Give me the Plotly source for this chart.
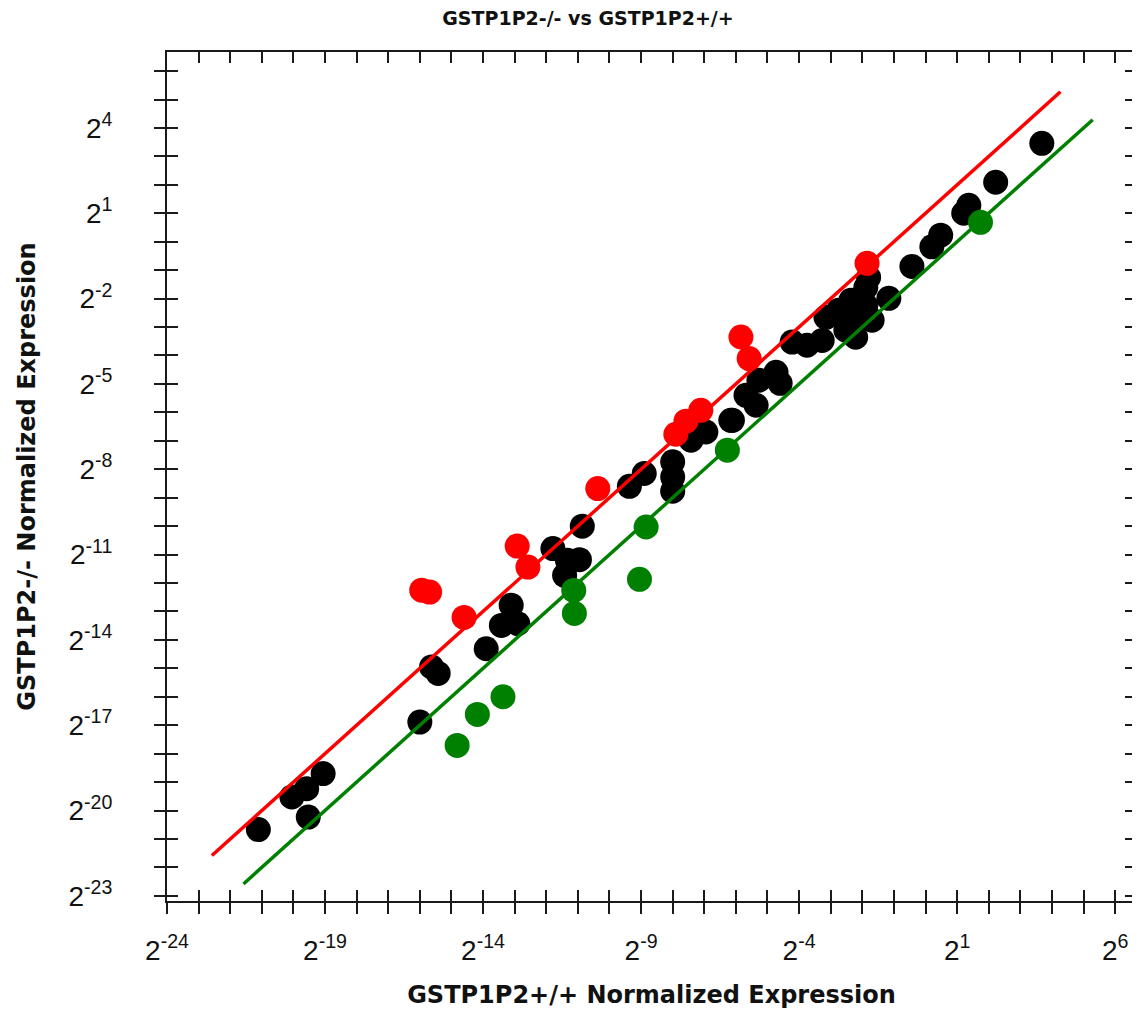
import math
import plotly.graph_objects as go

# log2 expression values (x: GSTP1P2+/+, y: GSTP1P2-/-)
black_x = [-21.11, -20.05, -19.58, -19.06, -19.53, -16.0, -15.63, -15.42, -13.90, -13.42,
           -13.11, -12.90, -11.79, -11.42, -11.33, -10.95, -10.86, -9.37, -8.90, -8.0,
           -8.0, -8.0, -7.42, -6.95, -6.16, -6.11, -5.68, -5.36, -5.27, -4.73,
           -4.60, -4.22, -3.75, -3.27, -3.15, -2.75, -2.52, -2.21, -2.36, -2.11,
           -1.89, -1.89, -1.80, -1.69, -1.16, -0.43, 0.20, 0.48, 1.21, 1.37,
           2.22, 3.68]
black_y = [-20.67, -19.52, -19.23, -18.70, -20.23, -16.89, -14.95, -15.18, -14.31, -13.49,
           -12.78, -13.43, -10.79, -11.73, -11.20, -11.18, -10.0, -8.6, -8.15, -7.74,
           -8.27, -8.77, -6.98, -6.69, -6.28, -6.28, -5.40, -5.75, -4.87, -4.59,
           -4.98, -3.53, -3.64, -3.47, -2.66, -2.41, -3.11, -3.36, -2.06, -2.76,
           -2.24, -1.61, -1.25, -2.76, -1.99, -0.87, -0.18, 0.23, 1.00, 1.28,
           2.09, 3.46]

red_x = [-15.94, -15.69, -14.60, -12.92, -12.58, -10.37, -7.90, -7.58, -7.11, -5.84, -5.58, -1.85]
red_y = [-12.25, -12.32, -13.21, -10.70, -11.44, -8.68, -6.77, -6.31, -5.93, -3.35, -4.11, -0.76]

green_x = [-14.82, -14.18, -13.37, -11.13, -11.11, -9.05, -8.84, -6.27, 1.74]
green_y = [-17.71, -16.62, -16.00, -12.26, -13.07, -11.87, -10.03, -7.33, 0.68]

# threshold lines (2-fold up / down), log2 endpoints
up_line_x = [-22.58, 4.27]
up_line_y = [-21.58, 5.27]
down_line_x = [-21.58, 5.29]
down_line_y = [-22.58, 4.29]

x_tick_exps = list(range(-24, 7))
x_label_exps = [-24, -19, -14, -9, -4, 1, 6]
y_tick_exps = list(range(-23, 7))
y_label_exps = [4, 1, -2, -5, -8, -11, -14, -17, -20, -23]

x_range_log2 = [-24.0, 6.66]
y_range_log2 = [-23.18, 6.67]


def p2(vals):
    return [2.0 ** v for v in vals]


def lab(k, shown):
    return f"2<sup>{k}</sup>" if k in shown else ""


L2 = math.log10(2.0)
xr = [v * L2 for v in x_range_log2]
yr = [v * L2 for v in y_range_log2]

AX = "#1a1a1a"
FONT = "Liberation Sans, Arial, sans-serif"
BOLD = "DejaVu Sans, Verdana, sans-serif"
W, H = 1132, 1005

fig = go.Figure()
fig.add_trace(go.Scatter(x=p2(black_x), y=p2(black_y), mode="markers",
                         marker=dict(color="#000000", size=25, line=dict(width=0)),
                         name="unchanged"))
fig.add_trace(go.Scatter(x=p2(red_x), y=p2(red_y), mode="markers",
                         marker=dict(color="#ff0000", size=25, line=dict(width=0)),
                         name="up"))
fig.add_trace(go.Scatter(x=p2(green_x), y=p2(green_y), mode="markers",
                         marker=dict(color="#008000", size=25, line=dict(width=0)),
                         name="down"))
fig.add_trace(go.Scatter(x=p2(up_line_x), y=p2(up_line_y), mode="lines",
                         line=dict(color="#ff0000", width=3.5), name="2-fold up",
                         xaxis="x2", yaxis="y2"))
fig.add_trace(go.Scatter(x=p2(down_line_x), y=p2(down_line_y), mode="lines",
                         line=dict(color="#008000", width=3.5), name="2-fold down",
                         xaxis="x2", yaxis="y2"))

common = dict(type="log", showgrid=False, zeroline=False, showline=True,
              linewidth=2, linecolor=AX, tickwidth=2, tickcolor=AX, ticklen=11,
              tickmode="array")

fig.update_layout(
    width=W, height=H,
    margin=dict(l=159, r=2, t=44, b=112),
    paper_bgcolor="white", plot_bgcolor="white",
    showlegend=False,
    font=dict(family=FONT, color="#111111"),
    title=dict(text="<b>GSTP1P2-/- vs GSTP1P2+/+</b>", x=580 / W, xref="container",
               xanchor="center", y=1 - 4 / H, yref="container", yanchor="top",
               pad=dict(t=0, b=0, l=0, r=0),
               font=dict(size=19, color="#111111", family=BOLD)),
    xaxis=dict(**common, range=xr, ticks="outside",
               tickvals=p2(x_tick_exps), ticktext=[lab(k, x_label_exps) for k in x_tick_exps],
               tickfont=dict(size=28, family=FONT, color="#111111"),
               ticklabelstandoff=12,
               title=dict(text="<b>GSTP1P2+/+ Normalized Expression</b>",
                          font=dict(size=24, family=BOLD, color="#111111"), standoff=22)),
    yaxis=dict(**common, range=yr, ticks="outside",
               tickvals=p2(y_tick_exps), ticktext=[lab(k, y_label_exps) for k in y_tick_exps],
               tickfont=dict(size=28, family=FONT, color="#111111"),
               ticklabelstandoff=36,
               title=dict(text="<b>GSTP1P2-/- Normalized Expression</b>",
                          font=dict(size=24, family=BOLD, color="#111111"), standoff=26)),
    xaxis2=dict(**common, range=xr, overlaying="x", anchor="y2", side="bottom",
                ticks="inside", mirror="allticks", showticklabels=False,
                tickvals=p2(x_tick_exps)),
    yaxis2=dict(**common, range=yr, overlaying="y", anchor="x2", side="left",
                ticks="inside", mirror="allticks", showticklabels=False,
                tickvals=p2(y_tick_exps)),
)

fig.write_html("out.html")
